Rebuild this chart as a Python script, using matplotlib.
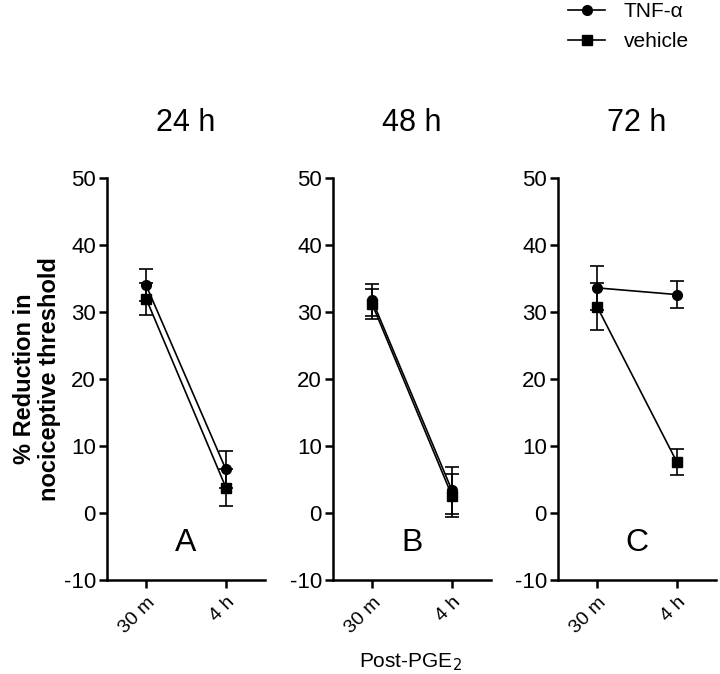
import matplotlib.pyplot as plt
from matplotlib.lines import Line2D
import numpy as np

# values
times = ['30 m', '4 h']
panels = ['24 h', '48 h', '72 h']
letters = ['A', 'B', 'C']

tnf_mean = [[34.0, 6.5], [31.8, 3.4], [33.6, 32.6]]
tnf_sem = [[2.4, 2.8], [2.4, 3.5], [3.3, 2.0]]
veh_mean = [[32.0, 3.8], [31.2, 2.6], [30.8, 7.6]]
veh_sem = [[2.4, 2.8], [2.3, 3.2], [3.5, 2.0]]

plt.rcParams['font.family'] = ['Liberation Sans', 'DejaVu Sans']
plt.rcParams['axes.unicode_minus'] = False
fig = plt.figure(figsize=(7.2, 6.74), dpi=100)

lefts = [107, 333, 558]
axw = 158
bottom = 1 - 580 / 674
height = (580 - 178) / 674

x = np.arange(len(times))
axes = []
for i in range(3):
    ax = fig.add_axes([lefts[i] / 720, bottom, axw / 720, height])
    axes.append(ax)
    ax.errorbar(x, tnf_mean[i], yerr=tnf_sem[i], color='black', marker='o', ms=7,
                lw=1.2, elinewidth=1.2, capsize=5, capthick=1.2)
    ax.errorbar(x, veh_mean[i], yerr=veh_sem[i], color='black', marker='s', ms=7,
                lw=1.2, elinewidth=1.2, capsize=5, capthick=1.2)
    ax.set_xlim(-0.49, 1.49)
    ax.set_ylim(-10, 50)
    ax.set_yticks(np.arange(-10, 51, 10))
    ax.set_xticks(x)
    ax.set_xticklabels(times, rotation=45, ha='right', rotation_mode='anchor', fontsize=14)
    ax.tick_params(axis='y', labelsize=16, width=1.8, length=6, pad=2)
    ax.tick_params(axis='x', width=1.8, length=6, pad=4)
    for s in ['top', 'right']:
        ax.spines[s].set_visible(False)
    for s in ['left', 'bottom']:
        ax.spines[s].set_linewidth(1.8)
    ax.set_title(panels[i], fontsize=22, pad=34)
    ax.text(0.5, 0.055, letters[i], transform=ax.transAxes, ha='center', va='bottom', fontsize=23)

axes[0].set_ylabel('% Reduction in\nnociceptive threshold', fontsize=17, fontweight='bold',
                   labelpad=2, linespacing=1.1)
fig.text(410 / 720, 1 - 662 / 674, 'Post-PGE$_2$', ha='center', va='center', fontsize=15)

handles = [Line2D([], [], color='black', marker='o', ms=7, lw=1.2),
           Line2D([], [], color='black', marker='s', ms=7, lw=1.2)]
fig.legend(handles, ['TNF-α', 'vehicle'], loc='upper left', bbox_to_anchor=(549 / 720, 1.025),
           frameon=False, fontsize=15, handlelength=1.8, labelspacing=0.55, handletextpad=0.9)

plt.savefig('out.png', dpi=100)
